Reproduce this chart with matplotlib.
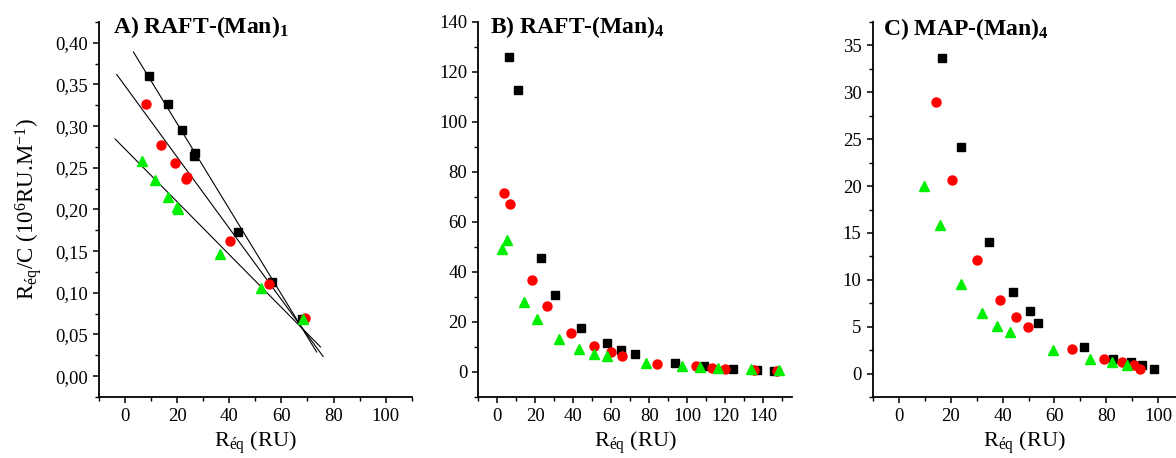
import numpy as np
import matplotlib
matplotlib.use('Agg')
import matplotlib.pyplot as plt
from matplotlib.ticker import MultipleLocator, FuncFormatter

plt.rcParams['font.family'] = ['Liberation Serif', 'DejaVu Serif']
plt.rcParams['mathtext.fontset'] = 'custom'
plt.rcParams['mathtext.rm'] = 'Liberation Serif'
plt.rcParams['mathtext.it'] = 'Liberation Serif:italic'
plt.rcParams['mathtext.bf'] = 'Liberation Serif:bold'

# Panel A : Scatchard plot RAFT-(Man)1
a_sq_x = [9, 16.3, 21.8, 26.5, 26.9, 43.2, 56.3, 67.8]
a_sq_y = [0.360, 0.326, 0.295, 0.264, 0.268, 0.1725, 0.113, 0.068]
a_ci_x = [8.0, 13.7, 19.0, 23.7, 23.5, 40.4, 55.3, 69.1]
a_ci_y = [0.327, 0.277, 0.256, 0.2395, 0.2365, 0.162, 0.111, 0.0698]
a_tr_x = [6.4, 11.5, 16.3, 19.9, 20.3, 36.5, 52.0, 68.3]
a_tr_y = [0.258, 0.2355, 0.2147, 0.2026, 0.200, 0.147, 0.106, 0.069]
# linear fits (intercept, slope) and drawn range
fit_icpt = [0.4054, 0.3483, 0.2725]
fit_slope = [-0.00512, -0.004272, -0.003166]
fit_x0 = [3.2, -3.2, -3.8]
fit_x1 = [73.5, 76.0, 75.0]

# Panel B : RAFT-(Man)4
b_sq_x = [6.2, 11.1, 22.8, 30.5, 44.2, 57.9, 65.3, 72.3, 93.5, 109, 124.2, 136.5, 145.8]
b_sq_y = [126, 113, 45.7, 30.8, 17.6, 11.6, 9.0, 7.2, 3.7, 2.4, 1.2, 0.8, 0.4]
b_ci_x = [3.5, 6.7, 18.4, 26.3, 38.9, 51.1, 59.7, 65.8, 83.9, 104.6, 112.8, 119.8, 135.1, 147]
b_ci_y = [71.7, 67.2, 36.9, 26.4, 15.8, 10.4, 8.0, 6.6, 3.4, 2.3, 1.6, 1.3, 0.7, 0.3]
b_tr_x = [2.3, 5.3, 13.9, 20.7, 32.5, 43, 50.9, 57.7, 78.1, 97.4, 106.7, 116.3, 133.4, 148.1]
b_tr_y = [49.4, 53, 28, 21.4, 13.4, 9.1, 7.4, 6.3, 3.8, 2.4, 2.0, 1.6, 1.2, 0.9]

# Panel C : MAP-(Man)4
c_sq_x = [16.7, 24.0, 34.8, 43.9, 50.4, 53.8, 71.4, 82.7, 89.5, 93.7, 98.5]
c_sq_y = [33.7, 24.2, 14.0, 8.7, 6.7, 5.35, 2.8, 1.6, 1.2, 0.9, 0.5]
c_ci_x = [14.4, 20.6, 30.2, 39.0, 45.1, 49.8, 66.9, 79.1, 86.0, 90.6, 93.0]
c_ci_y = [29.0, 20.6, 12.1, 7.8, 6.0, 5.0, 2.65, 1.54, 1.2, 0.9, 0.47]
c_tr_x = [9.8, 15.8, 24.0, 32.0, 37.9, 42.7, 59.3, 73.8, 82.0, 88.1]
c_tr_y = [20.0, 15.8, 9.6, 6.5, 5.1, 4.4, 2.5, 1.6, 1.2, 0.9]

W, H = 1176, 458
fig = plt.figure(figsize=(W / 100, H / 100), dpi=100)

def make_ax(left, right):
    ax = fig.add_axes([left / W, 1 - 397 / H, (right - left) / W, 375 / H])
    ax.spines['top'].set_visible(False)
    ax.spines['right'].set_visible(False)
    for s in ['left', 'bottom']:
        ax.spines[s].set_linewidth(1.3)
    ax.tick_params(which='major', direction='out', length=4.5, width=1.1, labelsize=13.5)
    ax.tick_params(which='minor', direction='out', length=2.8, width=1.0)
    ax.set_xlabel(r'R$_{\mathrm{éq}}$ (RU)', fontsize=16, labelpad=3)
    return ax

def scatter3(ax, sx, sy, cx, cy, tx, ty):
    ax.plot(sx, sy, 's', color='black', ms=6, mec='black', zorder=3)
    ax.plot(cx, cy, 'o', color='#ff0000', ms=6.5, mec='#ff0000', zorder=3)
    ax.plot(tx, ty, '^', color='#00ee00', ms=7, mec='#00ee00', zorder=3)

# A
axA = make_ax(99, 411.7)
for i in range(3):
    xs = np.array([fit_x0[i], fit_x1[i]])
    axA.plot(xs, fit_icpt[i] + fit_slope[i] * xs, color='black', lw=0.8, zorder=2)
scatter3(axA, a_sq_x, a_sq_y, a_ci_x, a_ci_y, a_tr_x, a_tr_y)
axA.set_xlim(-10, 110)
axA.set_ylim(-0.025, 0.425)
axA.xaxis.set_major_locator(MultipleLocator(20))
axA.xaxis.set_minor_locator(MultipleLocator(10))
axA.yaxis.set_major_locator(MultipleLocator(0.05))
axA.yaxis.set_minor_locator(MultipleLocator(0.025))
axA.yaxis.set_major_formatter(FuncFormatter(lambda v, p: ('%.2f' % v).replace('.', ',')))
axA.set_ylabel(r'R$_{\mathrm{éq}}$/C (10$^{6}$RU.M$^{-1}$)', fontsize=16.5, labelpad=8)
axA.text(0.045, 0.971, r'A) RAFT-(Man)$_{\mathbf{1}}$', transform=axA.transAxes,
         fontsize=17, fontweight='bold', va='baseline', ha='left')

# B
axB = make_ax(478.3, 791.7)
scatter3(axB, b_sq_x, b_sq_y, b_ci_x, b_ci_y, b_tr_x, b_tr_y)
axB.set_xlim(-10, 155)
axB.set_ylim(-10, 140)
axB.xaxis.set_major_locator(MultipleLocator(20))
axB.xaxis.set_minor_locator(MultipleLocator(10))
axB.yaxis.set_major_locator(MultipleLocator(20))
axB.yaxis.set_minor_locator(MultipleLocator(10))
axB.text(0.037, 0.971, r'B) RAFT-(Man)$_{\mathbf{4}}$', transform=axB.transAxes,
         fontsize=17, fontweight='bold', va='baseline', ha='left')

# C
axC = make_ax(872.7, 1176)
scatter3(axC, c_sq_x, c_sq_y, c_ci_x, c_ci_y, c_tr_x, c_tr_y)
axC.set_xlim(-10, 106.8)
axC.set_ylim(-2.5, 37.5)
axC.xaxis.set_major_locator(MultipleLocator(20))
axC.xaxis.set_minor_locator(MultipleLocator(10))
axC.yaxis.set_major_locator(MultipleLocator(5))
axC.yaxis.set_minor_locator(MultipleLocator(2.5))
axC.text(0.033, 0.966, r'C) MAP-(Man)$_{\mathbf{4}}$', transform=axC.transAxes,
         fontsize=17, fontweight='bold', va='baseline', ha='left')

fig.savefig('out.png', dpi=100)
